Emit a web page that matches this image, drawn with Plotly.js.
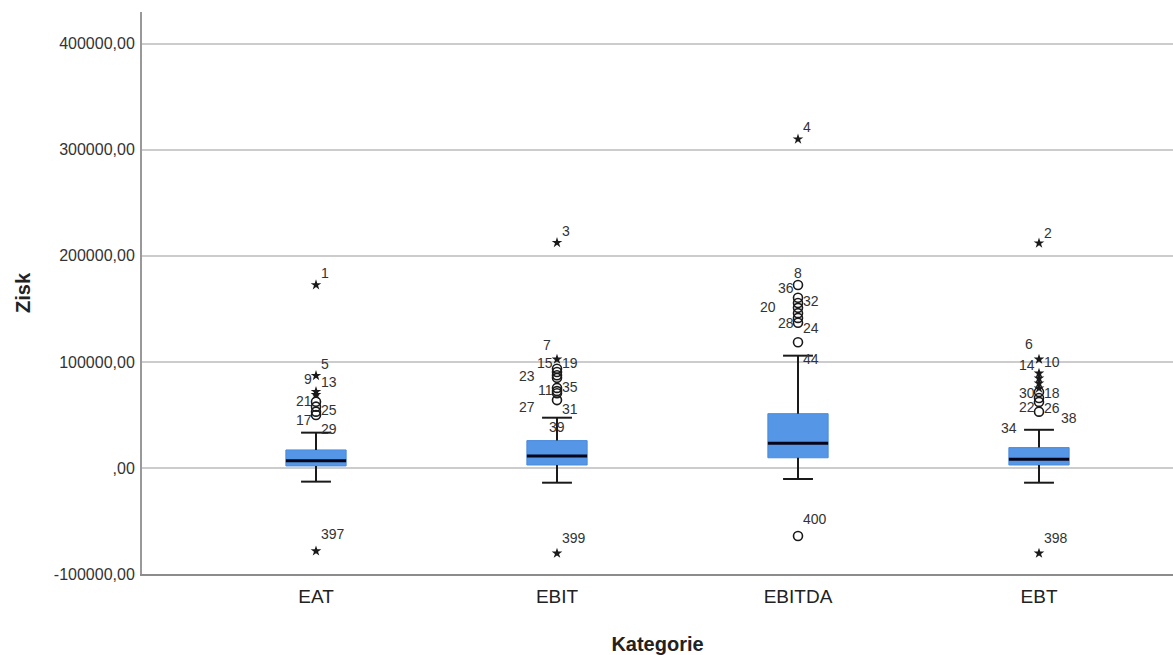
<!DOCTYPE html>
<html>
<head>
<meta charset="utf-8">
<script src="https://cdn.plot.ly/plotly-3.0.1.min.js"></script>
<style>html,body{margin:0;padding:0;background:#fff;}#chart{width:1173px;height:655px;}</style>
</head>
<body>
<div id="chart"></div>
<script>
// ---- data ----
var categories = ["EAT", "EBIT", "EBITDA", "EBT"];
var q1Values     = [1900, 2800, 9600, 2800];
var medianValues = [6900, 11300, 23300, 8200];
var q3Values     = [17000, 25800, 51200, 19200];
var lowerWhisker = [-12900, -13900, -10400, -13900];
var upperWhisker = [33300, 47400, 105900, 36000];

// extreme outliers (stars) and mild outliers (circles) per category
var eatStars      = [172600, 87000, 72000, 69000, -78300];
var eatCircles    = [62500, 57800, 53100, 50000];
var ebitStars     = [212500, 102500, -80500];
var ebitCircles   = [93500, 90500, 87500, 85000, 75500, 72500, 70500, 64000];
var ebitdaStars   = [310100];
var ebitdaCircles = [172600, 160500, 155500, 151000, 146000, 141500, 137000, 118500, -64200];
var ebtStars      = [212000, 102500, 89300, 84600, 79900, 75200, -80500];
var ebtCircles    = [71700, 66000, 62300, 53100];

// case-number labels: text, value where label sits, side (r right, R far right, l left, L far left, a above-left, c centred)
var eatLabelText    = ["1", "5", "9", "13", "21", "25", "17", "29", "397"];
var eatLabelValue   = [184000, 98400, 84000, 81100, 63200, 54700, 45300, 36800, -62300];
var eatLabelSide    = ["r", "r", "l", "r", "l", "r", "l", "r", "r"];
var ebitLabelText   = ["3", "7", "15", "19", "23", "11", "35", "27", "31", "39", "399"];
var ebitLabelValue  = [223900, 116000, 98800, 98800, 87100, 73600, 76700, 57300, 55700, 38700, -66300];
var ebitLabelSide   = ["r", "a", "l", "r", "L", "l", "r", "L", "r", "c", "r"];
var ebitdaLabelText = ["4", "8", "36", "32", "20", "28", "24", "44", "400"];
var ebitdaLabelValue= [322000, 183700, 169500, 157500, 151900, 136800, 132100, 102500, -48400];
var ebitdaLabelSide = ["r", "c", "l", "r", "L", "l", "r", "r", "r"];
var ebtLabelText    = ["2", "6", "14", "10", "30", "18", "22", "26", "38", "34", "398"];
var ebtLabelValue   = [222000, 117000, 97200, 100300, 71000, 70500, 57300, 56300, 46900, 37500, -66300];
var ebtLabelSide    = ["r", "a", "l", "r", "l", "r", "l", "r", "R", "L", "r"];

var yTickValues = [-100000, 0, 100000, 200000, 300000, 400000];
var yTickText   = ["-100000,00", ",00", "100000,00", "200000,00", "300000,00", "400000,00"];

// ---- build traces ----
var starSets   = [eatStars, ebitStars, ebitdaStars, ebtStars];
var circleSets = [eatCircles, ebitCircles, ebitdaCircles, ebtCircles];
var labelTexts = [eatLabelText, ebitLabelText, ebitdaLabelText, ebtLabelText];
var labelVals  = [eatLabelValue, ebitLabelValue, ebitdaLabelValue, ebtLabelValue];
var labelSides = [eatLabelSide, ebitLabelSide, ebitdaLabelSide, ebtLabelSide];

var idx = categories.map(function (c, i) { return i; });
var BOX_W = 0.25, CAP_HALF = 0.062, MED_HALF = BOX_W / 2;

var whiskX = [], whiskY = [], medX = [], medY = [];
idx.forEach(function (i) {
  whiskX.push(i, i, null, i, i, null, i - CAP_HALF, i + CAP_HALF, null, i - CAP_HALF, i + CAP_HALF, null);
  whiskY.push(q3Values[i], upperWhisker[i], null, q1Values[i], lowerWhisker[i], null,
              upperWhisker[i], upperWhisker[i], null, lowerWhisker[i], lowerWhisker[i], null);
  medX.push(i - MED_HALF, i + MED_HALF, null);
  medY.push(medianValues[i], medianValues[i], null);
});

var traces = [];
traces.push({
  type: "bar", x: idx, base: q1Values,
  y: idx.map(function (i) { return q3Values[i] - q1Values[i]; }),
  width: BOX_W,
  marker: { color: "#5596e6", line: { color: "#4a8bdc", width: 1 } },
  hoverinfo: "skip", showlegend: false
});
traces.push({
  type: "scatter", mode: "lines", x: whiskX, y: whiskY,
  line: { color: "#1a1a1a", width: 2 }, hoverinfo: "skip", showlegend: false
});
traces.push({
  type: "scatter", mode: "lines", x: medX, y: medY,
  line: { color: "#05051a", width: 3 }, hoverinfo: "skip", showlegend: false
});

var sx = [], sy = [], cx = [], cy = [];
idx.forEach(function (i) {
  starSets[i].forEach(function (v) { sx.push(i); sy.push(v); });
  circleSets[i].forEach(function (v) { cx.push(i); cy.push(v); });
});
traces.push({
  type: "scatter", mode: "markers", x: cx, y: cy,
  marker: { symbol: "circle-open", size: 9, color: "#1a1a1a", line: { width: 1.6, color: "#1a1a1a" } },
  hoverinfo: "skip", showlegend: false
});
traces.push({
  type: "scatter", mode: "markers", x: sx, y: sy,
  marker: { symbol: "star", size: 8, color: "#1a1a1a", line: { width: 0 } },
  hoverinfo: "skip", showlegend: false
});

var annotations = [];
var sideCfg = {
  r: { dx: 0.015, anchor: "left" },
  R: { dx: 0.088, anchor: "left" },
  l: { dx: -0.012, anchor: "right" },
  L: { dx: -0.088, anchor: "right" },
  a: { dx: -0.04, anchor: "center" },
  c: { dx: 0, anchor: "center" }
};
idx.forEach(function (i) {
  labelTexts[i].forEach(function (t, k) {
    var s = sideCfg[labelSides[i][k]];
    annotations.push({
      x: i + s.dx, y: labelVals[i][k], xref: "x", yref: "y",
      text: t, showarrow: false, xanchor: s.anchor, yanchor: "middle",
      font: { family: "Liberation Sans, Arial, sans-serif", size: 14, color: "#333" },
      borderpad: 0
    });
  });
});

var layout = {
  width: 1173, height: 655,
  margin: { l: 142, r: 0, t: 12, b: 81 },
  paper_bgcolor: "#ffffff", plot_bgcolor: "#ffffff",
  showlegend: false,
  font: { family: "Liberation Sans, Arial, sans-serif", color: "#222" },
  xaxis: {
    range: [-0.722, 3.556], tickvals: idx, ticktext: categories,
    showgrid: false, zeroline: false, showline: true, linecolor: "#8c8c8c", linewidth: 2,
    ticks: "", tickfont: { size: 19, color: "#222" }, ticklabelstandoff: 4,
    title: { text: "Kategorie", font: { size: 20, color: "#222", weight: "bold" }, standoff: 34 },
    fixedrange: true
  },
  yaxis: {
    range: [-100000, 430000], tickvals: yTickValues, ticktext: yTickText,
    showgrid: true, gridcolor: "#cccccc", gridwidth: 1.5,
    zeroline: false, showline: true, linecolor: "#999999", linewidth: 2,
    ticks: "", tickfont: { size: 16, color: "#333" }, ticklabelstandoff: 2,
    title: { text: "Zisk", font: { size: 20, color: "#222", weight: "bold" }, standoff: 18 },
    fixedrange: true
  },
  annotations: annotations
};

Plotly.newPlot("chart", traces, layout, { displayModeBar: false, staticPlot: true });
</script>
</body>
</html>
